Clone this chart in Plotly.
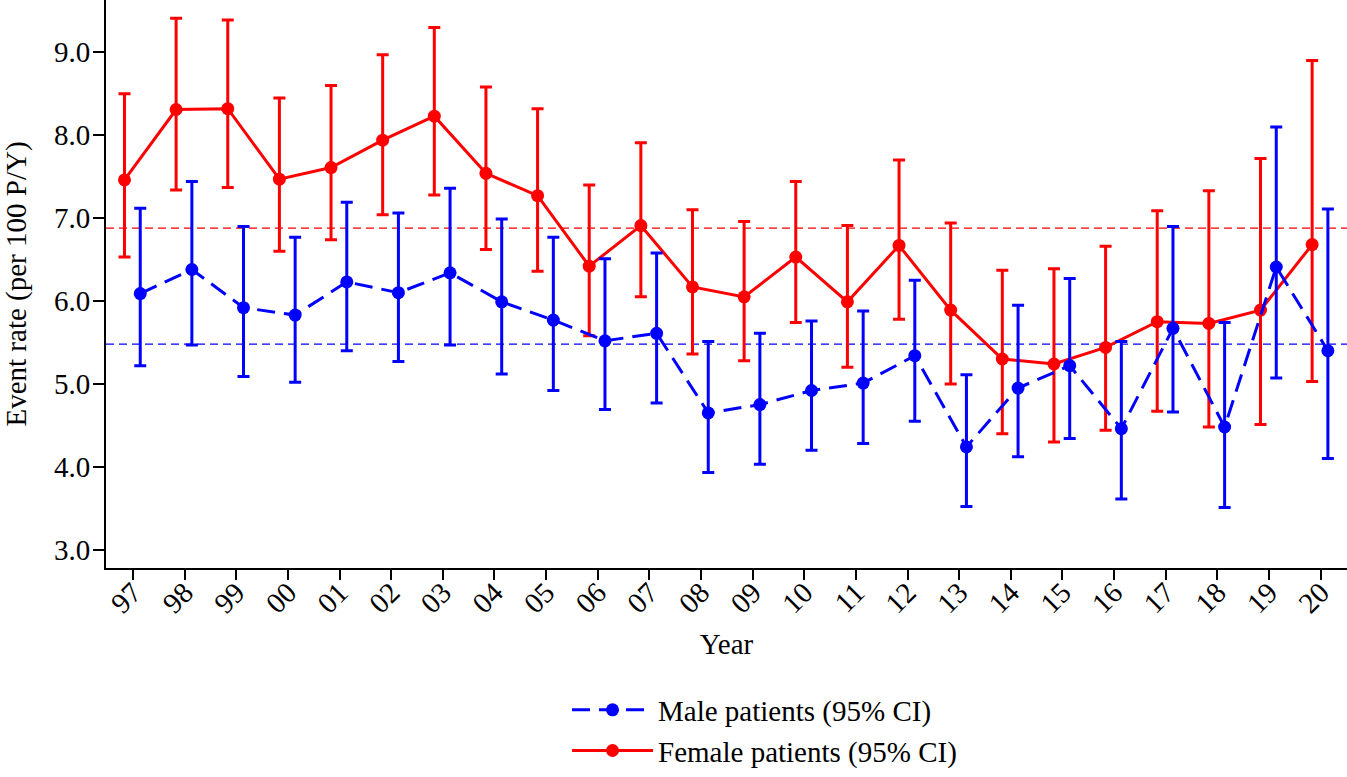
import plotly.graph_objects as go

years = ["97", "98", "99", "00", "01", "02", "03", "04", "05", "06", "07", "08",
         "09", "10", "11", "12", "13", "14", "15", "16", "17", "18", "19", "20"]

female_rate = [7.46, 8.31, 8.32, 7.47, 7.61, 7.94, 8.23, 7.54, 7.27, 6.42, 6.91, 6.17,
               6.05, 6.53, 5.99, 6.67, 5.89, 5.30, 5.24, 5.44, 5.75, 5.73, 5.89, 6.68]
female_upper = [8.50, 9.41, 9.39, 8.45, 8.60, 8.97, 9.30, 8.58, 8.32, 7.40, 7.91, 7.10,
                6.96, 7.44, 6.91, 7.70, 6.94, 6.37, 6.39, 6.66, 7.09, 7.33, 7.72, 8.90]
female_lower = [6.53, 7.34, 7.37, 6.60, 6.74, 7.04, 7.28, 6.62, 6.36, 5.58, 6.05, 5.36,
                5.28, 5.74, 5.20, 5.78, 5.00, 4.40, 4.30, 4.44, 4.67, 4.48, 4.51, 5.03]

male_rate = [6.09, 6.38, 5.92, 5.83, 6.23, 6.10, 6.34, 5.99, 5.77, 5.52, 5.61, 4.65,
             4.75, 4.92, 5.01, 5.34, 4.24, 4.95, 5.22, 4.46, 5.67, 4.48, 6.41, 5.40]
male_upper = [7.12, 7.44, 6.90, 6.77, 7.19, 7.06, 7.36, 6.99, 6.77, 6.51, 6.58, 5.51,
              5.61, 5.76, 5.88, 6.25, 5.11, 5.95, 6.27, 5.51, 6.90, 5.74, 8.10, 7.11]
male_lower = [5.22, 5.47, 5.09, 5.02, 5.40, 5.27, 5.47, 5.12, 4.92, 4.69, 4.77, 3.93,
              4.03, 4.20, 4.28, 4.55, 3.52, 4.12, 4.34, 3.61, 4.66, 3.51, 5.07, 4.10]

female_mean = 6.88
male_mean = 5.48

y_ticks = [3.0, 4.0, 5.0, 6.0, 7.0, 8.0, 9.0]

RED = "#FF0000"
BLUE = "#0000FF"
FONT = "Liberation Serif, Times New Roman, serif"
FS = 29

idx = list(range(len(years)))
x_f = [i - 0.165 for i in idx]
x_m = [i + 0.14 for i in idx]

fig = go.Figure()

fig.add_trace(go.Scatter(
    x=x_f, y=female_rate, mode="lines+markers",
    name="Female patients (95% CI)", legendrank=2,
    line=dict(color=RED, width=3),
    marker=dict(color=RED, size=13),
    error_y=dict(type="data", symmetric=False,
                 array=[u - v for u, v in zip(female_upper, female_rate)],
                 arrayminus=[v - l for v, l in zip(female_rate, female_lower)],
                 color=RED, thickness=3, width=6),
))

fig.add_trace(go.Scatter(
    x=x_m, y=male_rate, mode="lines+markers",
    name="Male patients (95% CI)", legendrank=1,
    line=dict(color=BLUE, width=3, dash="18px,9px"),
    marker=dict(color=BLUE, size=13),
    error_y=dict(type="data", symmetric=False,
                 array=[u - v for u, v in zip(male_upper, male_rate)],
                 arrayminus=[v - l for v, l in zip(male_rate, male_lower)],
                 color=BLUE, thickness=3, width=6),
))

for val, col in [(female_mean, RED), (male_mean, BLUE)]:
    fig.add_shape(type="line", xref="paper", x0=0, x1=1, yref="y", y0=val, y1=val,
                  line=dict(color=col, width=1.2, dash="8px,5px"), layer="below")

fig.update_layout(
    width=1347, height=777,
    margin=dict(l=106, r=0, t=0, b=209, autoexpand=False),
    paper_bgcolor="white", plot_bgcolor="white",
    font=dict(family=FONT, size=FS, color="black"),
    showlegend=True,
    legend=dict(x=0.3715, y=-0.205, xref="paper", yref="paper",
                xanchor="left", yanchor="top",
                font=dict(family=FONT, size=FS, color="black"),
                bgcolor="rgba(0,0,0,0)", itemwidth=81,
                tracegroupgap=0),
    xaxis=dict(
        range=[-0.523, 23.51],
        tickmode="array", tickvals=idx, ticktext=years,
        tickangle=-45, automargin=False, ticklabelstandoff=-16,
        ticks="outside", ticklen=10, tickwidth=2, tickcolor="black",
        showline=True, linecolor="black", linewidth=2,
        showgrid=False, zeroline=False,
        tickfont=dict(family=FONT, size=FS),
        title=dict(text="Year", font=dict(family=FONT, size=FS), standoff=15),
    ),
    yaxis=dict(
        range=[2.779, 9.631], automargin=False, ticklabelstandoff=-3,
        tickmode="array", tickvals=y_ticks,
        ticktext=[f"{v:.1f}" for v in y_ticks],
        ticks="outside", ticklen=11, tickwidth=2, tickcolor="black",
        showline=True, linecolor="black", linewidth=2,
        showgrid=False, zeroline=False,
        tickfont=dict(family=FONT, size=FS),
        title=dict(text="Event rate (per 100 P/Y)", font=dict(family=FONT, size=FS), standoff=29),
    ),
)

fig.write_html("out.html", config={"displayModeBar": False},
               post_script="document.body.style.margin='0';")
